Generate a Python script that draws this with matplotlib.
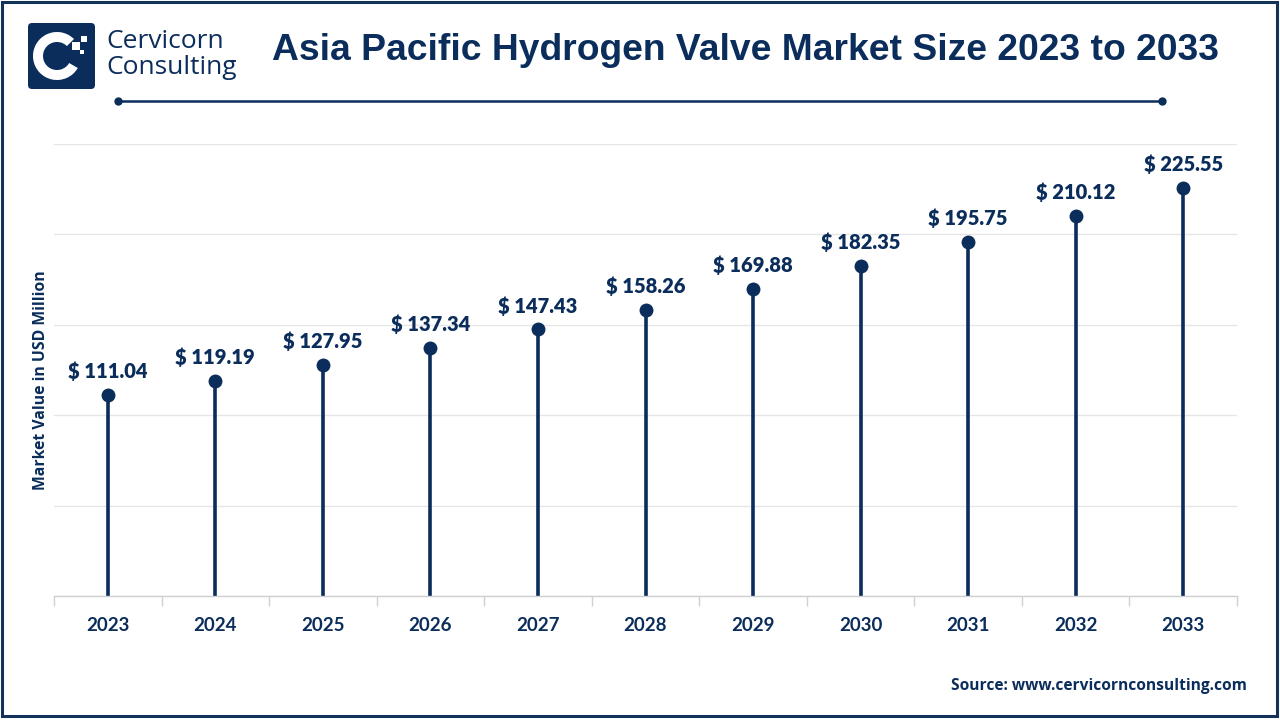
import matplotlib
matplotlib.use("Agg")
import matplotlib.pyplot as plt
from matplotlib.patches import FancyBboxPatch, Rectangle, Wedge
from matplotlib.lines import Line2D

years = ["2023", "2024", "2025", "2026", "2027", "2028", "2029", "2030", "2031", "2032", "2033"]
values = [111.04, 119.19, 127.95, 137.34, 147.43, 158.26, 169.88, 182.35, 195.75, 210.12, 225.55]
y_ticks = [0, 50, 100, 150, 200, 250]

NAVY = "#0b2d5b"
W, H = 1280, 720
fig = plt.figure(figsize=(12.8, 7.2), dpi=100)
fig.patch.set_facecolor("white")

def fx(px):
    return px / W

def fy(py):
    return 1 - py / H

# Frame border
fig.add_artist(Rectangle((fx(2), fy(716)), fx(1275), 714 / H, transform=fig.transFigure,
                         fill=False, edgecolor="#13325a", linewidth=2.2))

# Axes
ax = fig.add_axes([fx(54), fy(596), fx(1237 - 54), (596 - 144) / H])
x = list(range(len(years)))
ax.set_xlim(-0.5, len(years) - 0.5)
ax.set_ylim(0, 250)
ax.set_yticks(y_ticks)
ax.yaxis.grid(True, color="#e6e6e6", linewidth=1)
ax.set_axisbelow(True)
ax.tick_params(axis="y", left=False, labelleft=False)
for s in ["top", "right", "left"]:
    ax.spines[s].set_visible(False)
ax.spines["bottom"].set_color("#d0d0d0")
ax.spines["bottom"].set_linewidth(1)

ax.set_xticks([i - 0.5 for i in range(len(years) + 1)], minor=False)
ax.set_xticklabels([])
ax.tick_params(axis="x", which="major", length=7, color="#d0d0d0", width=1)
ax.set_xticks(x, minor=True)
ax.set_xticklabels(years, minor=True, fontsize=13.5, fontweight="bold", color=NAVY, family="Lato")
ax.tick_params(axis="x", which="minor", length=0, pad=15)

ax.vlines(x, 0, values, color=NAVY, linewidth=2.6)
ax.plot(x, values, "o", color=NAVY, markersize=9)
for xi, v in zip(x, values):
    ax.annotate(f"$ {v:.2f}", (xi, v), xytext=(0, 10), textcoords="offset points",
                ha="center", va="bottom", fontsize=14.5, fontweight="heavy", color=NAVY, family="Lato")

# Y label
fig.text(fx(41), fy(380), "Market Value in USD Million", rotation=90, ha="center", va="center",
         fontsize=11.3, fontweight="bold", color=NAVY, family="Open Sans")

# Title
fig.text(fx(746), fy(50), "Asia Pacific Hydrogen Valve Market Size 2023 to 2033", ha="center", va="center",
         fontsize=26.8, fontweight="bold", color=NAVY, family="Liberation Sans")

# Decorative line
fig.add_artist(Line2D([fx(118), fx(1162)], [fy(101), fy(101)], transform=fig.transFigure,
                      color=NAVY, linewidth=1.8))
fig.add_artist(Line2D([fx(118), fx(1162)], [fy(101), fy(101)], transform=fig.transFigure,
                      color=NAVY, linestyle="none", marker="o", markersize=5))

# Logo
lax = fig.add_axes([fx(28), fy(89), fx(67), 66 / H], zorder=5)
lax.set_xlim(0, 67)
lax.set_ylim(0, 66)
lax.axis("off")
lax.add_patch(FancyBboxPatch((0, 0), 67, 66, boxstyle="round,pad=0,rounding_size=4",
                             facecolor=NAVY, edgecolor="none"))
lax.add_patch(Wedge((29, 33), 24, 45, 330, width=10, facecolor="white", edgecolor="none"))
lax.add_patch(Rectangle((44, 39), 8, 8, facecolor="white", edgecolor="none"))
lax.add_patch(Rectangle((53, 47), 6, 6, facecolor="white", edgecolor="none"))
lax.add_patch(Rectangle((52, 35), 4, 4, facecolor="white", edgecolor="none"))

fig.text(fx(106), fy(42), "Cervicorn", ha="left", va="center", fontsize=19, color=NAVY,
         family="Open Sans", fontweight="medium")
fig.text(fx(106), fy(67), "Consulting", ha="left", va="center", fontsize=19, color=NAVY,
         family="Open Sans", fontweight="medium")

# Source
fig.text(fx(1247), fy(686), "Source: www.cervicornconsulting.com", ha="right", va="center",
         fontsize=11.2, fontweight="bold", color=NAVY, family="Open Sans")

fig.savefig("out.png", dpi=100, facecolor="white")
